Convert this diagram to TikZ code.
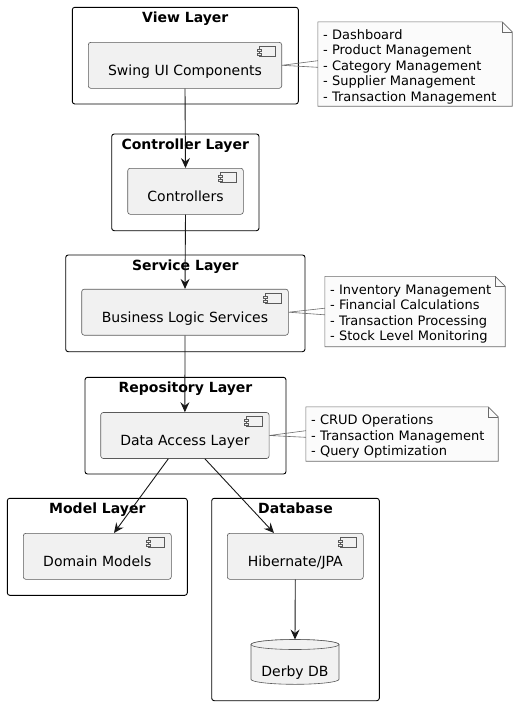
\documentclass[tikz,border=0pt]{standalone}
\usepackage{fontspec}
\setmainfont{DejaVu Sans}
\usetikzlibrary{arrows.meta,backgrounds}
\definecolor{compfill}{HTML}{F1F1F1}
\definecolor{compline}{HTML}{5A5A5A}
\definecolor{notefill}{HTML}{FBFBFB}
\definecolor{noteline}{HTML}{6A6A6A}
\definecolor{arrowline}{HTML}{181818}
\tikzset{
	layer/.style={draw=black, line width=0.9pt, rounded corners=2.5pt},
	layertitle/.style={anchor=base, font=\fontsize{14}{16}\selectfont\bfseries},
	comp/.style={draw=compline, fill=compfill, line width=0.6pt, rounded corners=2.5pt, minimum height=46pt, inner sep=0pt},
	comptext/.style={yshift=-6.5pt, inner sep=0pt, text height=10pt, text depth=3pt, font=\fontsize{14}{16}\selectfont},
	icon/.style={draw=compline, fill=compfill, line width=0.5pt},
	note/.style={align=left, inner xsep=5pt, inner ysep=0pt, font=\fontsize{13}{15.5}\selectfont},
	notebox/.style={draw=noteline, fill=notefill, line width=0.6pt},
	notelink/.style={draw=noteline, line width=0.6pt},
	flow/.style={draw=arrowline, line width=0.9pt, -{Stealth[length=10pt, width=9pt, inset=3.5pt]}},
	dbshape/.style={draw=compline, fill=compfill, line width=0.6pt}
}
\def\notestrut{\rule{0pt}{15pt}}
\def\compicon(#1){
	\draw[icon] ([shift={(-23pt,-4.5pt)}]#1.north east) rectangle ([shift={(-7pt,-14.5pt)}]#1.north east);
	\draw[icon] ([shift={(-25pt,-7pt)}]#1.north east) rectangle ([shift={(-21pt,-9pt)}]#1.north east);
	\draw[icon] ([shift={(-25pt,-11pt)}]#1.north east) rectangle ([shift={(-21pt,-13pt)}]#1.north east);
}
\def\notefold(#1){
	\begin{pgfonlayer}{background}
	\draw[notebox] (#1.north west) -- ([xshift=-10pt]#1.north east) -- ([yshift=-10pt]#1.north east) -- (#1.south east) -- (#1.south west) -- cycle;
	\draw[notebox, fill=none] ([xshift=-10pt]#1.north east) |- ([yshift=-10pt]#1.north east);
	\end{pgfonlayer}
}

\begin{document}
\begin{tikzpicture}[x=1pt, y=-1pt]
	\useasboundingbox (0,0) rectangle (518,705);
	%%%%% LAYERS %%%%%
	
	\draw[layer] (72.3, 7.3) rectangle (298.3, 104);
	\node[layertitle] (viewtitle) at (185.3, 22.3) {View Layer};
	
	\draw[layer] (111.7, 134) rectangle (259, 230.7);
	\node[layertitle] (ctrltitle) at (185.3, 149) {Controller Layer};
	
	\draw[layer] (65.7, 255) rectangle (305, 351.7);
	\node[layertitle] (servicetitle) at (185.3, 270) {Service Layer};
	
	\draw[layer] (85, 377.3) rectangle (286, 474);
	\node[layertitle] (repotitle) at (185.5, 392.3) {Repository Layer};
	
	\draw[layer] (7.3, 498.3) rectangle (187.3, 595.3);
	\node[layertitle] (modeltitle) at (97.3, 513.3) {Model Layer};
	
	\draw[layer] (211.7, 498.3) rectangle (379.3, 700.7);
	\node[layertitle] (dbtitle) at (295.5, 513.3) {Database};
	
	%%%%% COMPONENTS %%%%%
	
	\node[comp, minimum width=193.4pt, label={[comptext]center:Swing UI Components}] (swing) at (185, 65.3) {};
	\compicon(swing)
	\node[comp, minimum width=115.6pt, label={[comptext]center:Controllers}] (ctrl) at (185.5, 191.3) {};
	\compicon(ctrl)
	\node[comp, minimum width=206.6pt, label={[comptext]center:Business Logic Services}] (biz) at (185, 312.2) {};
	\compicon(biz)
	\node[comp, minimum width=168.3pt, label={[comptext]center:Data Access Layer}] (dal) at (184.9, 435.5) {};
	\compicon(dal)
	\node[comp, minimum width=148pt, label={[comptext]center:Domain Models}] (dom) at (97.3, 556.3) {};
	\compicon(dom)
	\node[comp, minimum width=136pt, label={[comptext]center:Hibernate/JPA}] (hib) at (295.3, 556.3) {};
	\compicon(hib)
	
	% database cylinder
	\filldraw[dbshape] (251, 644.5) -- (251, 679.3) arc[start angle=180, end angle=360, x radius=44pt, y radius=5pt] -- (339, 644.5) arc[start angle=0, end angle=180, x radius=44pt, y radius=5pt] -- cycle;
	\draw[dbshape] (295, 644.5) ellipse [x radius=44pt, y radius=5pt];
	\node[comptext] (derby) at (295, 666.5) {Derby DB};
	\coordinate (derbytop) at (295, 639.5);
	
	%%%%% NOTES %%%%%
	
	\node[note, text width=184pt, minimum height=84pt] (viewnote) at (415, 64) {\notestrut- Dashboard\\- Product Management\\- Category Management\\- Supplier Management\\- Transaction Management};
	\notefold(viewnote)
	\draw[notelink] ([yshift=3.3pt]viewnote.west) -- (swing.east) -- ([yshift=-3.3pt]viewnote.west);
	
	\node[note, text width=170pt, minimum height=70pt] (biznote) at (415, 311.5) {\notestrut- Inventory Management\\- Financial Calculations\\- Transaction Processing\\- Stock Level Monitoring};
	\notefold(biznote)
	\draw[notelink] ([yshift=3.3pt]biznote.west) -- (biz.east) -- ([yshift=-3.3pt]biznote.west);
	
	\node[note, text width=182pt, minimum height=54pt] (dalnote) at (402, 434) {\notestrut- CRUD Operations\\- Transaction Management\\- Query Optimization};
	\notefold(dalnote)
	\draw[notelink] ([yshift=3.3pt]dalnote.west) -- (dal.east) -- ([yshift=-3.3pt]dalnote.west);
	
	%%%%% ARROWS %%%%%
	
	\draw[flow] (swing.south) -- (ctrl.north);
	\draw[flow] (ctrl.south) -- (biz.north);
	\draw[flow] (biz.south) -- (dal.north);
	\draw[flow] ([xshift=-16.6pt]dal.south) -- ([xshift=16.7pt]dom.north);
	\draw[flow] ([xshift=20pt]dal.south) -- ([xshift=-21.3pt]hib.north);
	\draw[flow] (hib.south) -- (derbytop);
	
	%%%%% END %%%%%
\end{tikzpicture}
\end{document}
